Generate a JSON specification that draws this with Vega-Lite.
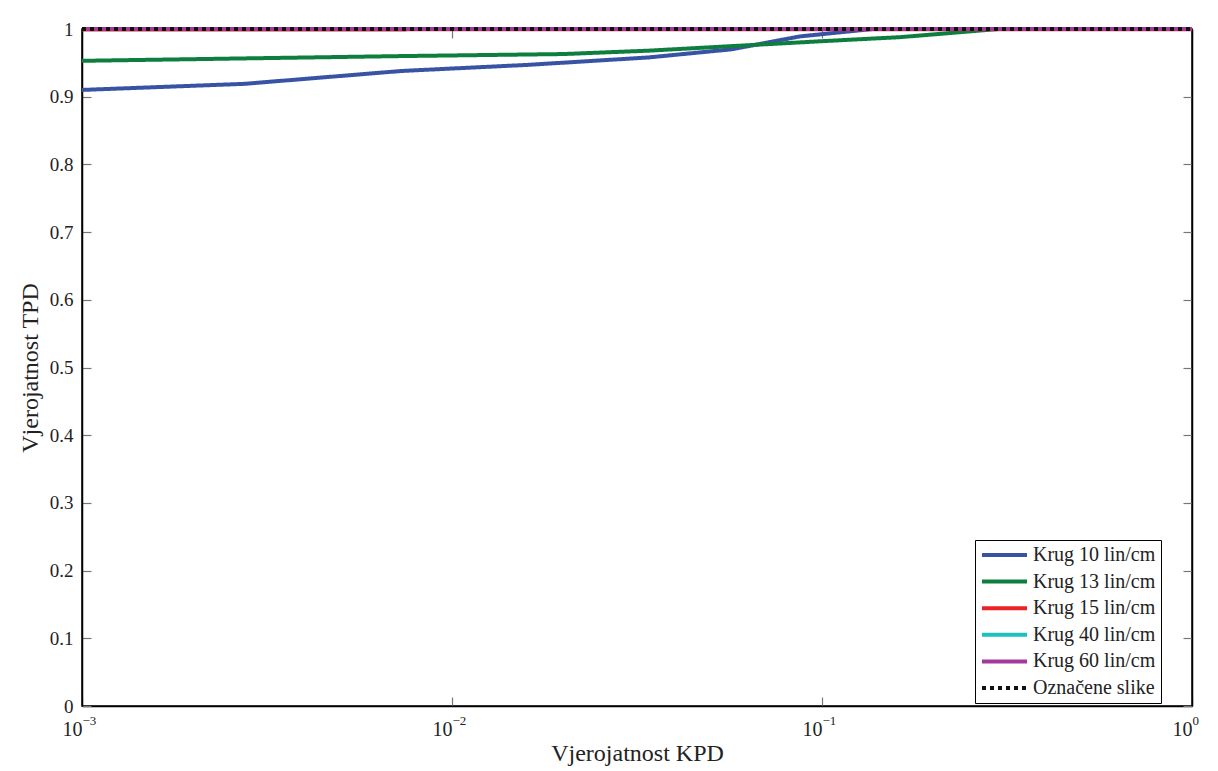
{
  "$schema": "https://vega.github.io/schema/vega-lite/v6.json",
  "autosize": "none",
  "width": 1110,
  "height": 677,
  "padding": {"left": 82, "top": 29, "right": 26, "bottom": 65},
  "background": "white",
  "config": {
    "font": "Liberation Serif",
    "view": {"stroke": "black", "strokeWidth": 1.5},
    "axis": {"grid": false, "domainColor": "black", "domainWidth": 1.5, "tickColor": "#777", "tickWidth": 1.2, "labelFont": "Liberation Serif", "titleFont": "Liberation Serif", "labelColor": "#222", "titleColor": "#222", "titleFontWeight": "normal"}
  },
  "data": {
    "values": [
      {"s": "Krug 10 lin/cm", "x": 0.001, "y": 0.910},
      {"s": "Krug 10 lin/cm", "x": 0.00275, "y": 0.919},
      {"s": "Krug 10 lin/cm", "x": 0.0073, "y": 0.938},
      {"s": "Krug 10 lin/cm", "x": 0.016, "y": 0.947},
      {"s": "Krug 10 lin/cm", "x": 0.034, "y": 0.958},
      {"s": "Krug 10 lin/cm", "x": 0.057, "y": 0.970},
      {"s": "Krug 10 lin/cm", "x": 0.087, "y": 0.989},
      {"s": "Krug 10 lin/cm", "x": 0.137, "y": 1.0},
      {"s": "Krug 10 lin/cm", "x": 1, "y": 1.0},
      {"s": "Krug 13 lin/cm", "x": 0.001, "y": 0.953},
      {"s": "Krug 13 lin/cm", "x": 0.0073, "y": 0.960},
      {"s": "Krug 13 lin/cm", "x": 0.02, "y": 0.963},
      {"s": "Krug 13 lin/cm", "x": 0.034, "y": 0.968},
      {"s": "Krug 13 lin/cm", "x": 0.1, "y": 0.982},
      {"s": "Krug 13 lin/cm", "x": 0.163, "y": 0.988},
      {"s": "Krug 13 lin/cm", "x": 0.3, "y": 1.0},
      {"s": "Krug 13 lin/cm", "x": 1, "y": 1.0},
      {"s": "Krug 15 lin/cm", "x": 0.001, "y": 0.9993},
      {"s": "Krug 15 lin/cm", "x": 1, "y": 0.9998},
      {"s": "Krug 40 lin/cm", "x": 0.001, "y": 1.0},
      {"s": "Krug 40 lin/cm", "x": 1, "y": 1.0},
      {"s": "Krug 60 lin/cm", "x": 0.001, "y": 1.0},
      {"s": "Krug 60 lin/cm", "x": 1, "y": 1.0},
      {"s": "Označene slike", "x": 0.001, "y": 1.0},
      {"s": "Označene slike", "x": 1, "y": 1.0}
    ]
  },
  "layer": [
    {
      "mark": {"type": "line", "strokeWidth": 4, "clip": false},
      "encoding": {
        "x": {"field": "x", "type": "quantitative", "scale": {"type": "log", "domain": [0.001, 1], "nice": false},
          "axis": {"orient": "bottom", "values": [0.001, 0.01, 0.1, 1], "tickSize": -9, "labelPadding": 22, "labelFontSize": 20, "labelBaseline": "top", "labelAlign": "right", "labelDx": -1, "labelFlush": false,
            "labelExpr": "'10'",
            "title": "Vjerojatnost KPD", "titleFontSize": 24, "titlePadding": 2}},
        "y": {"field": "y", "type": "quantitative", "scale": {"domain": [0, 1], "nice": false},
          "axis": {"orient": "left", "values": [0, 0.1, 0.2, 0.3, 0.4, 0.5, 0.6, 0.7, 0.8, 0.9, 1], "format": "~g", "tickSize": -9, "labelPadding": 18, "labelFontSize": 19,
            "title": "Vjerojatnost TPD", "titleFontSize": 24, "titlePadding": 7}},
        "color": {"field": "s", "type": "nominal",
          "scale": {"domain": ["Krug 10 lin/cm", "Krug 13 lin/cm", "Krug 15 lin/cm", "Krug 40 lin/cm", "Krug 60 lin/cm", "Označene slike"],
            "range": ["#3853A4", "#0E7E3E", "#EC2227", "#1DBFBF", "#A3399B", "#111111"]},
          "legend": {"title": null, "orient": "none", "legendX": 893, "legendY": 511, "fillColor": "white", "strokeColor": "black", "padding": 5,
            "symbolType": "stroke", "symbolStrokeWidth": 4, "symbolSize": 2025, "clipHeight": 20, "rowPadding": 6.6, "labelFontSize": 20, "labelColor": "#222", "labelOffset": 4}},
        "strokeDash": {"field": "s", "type": "nominal",
          "scale": {"domain": ["Krug 10 lin/cm", "Krug 13 lin/cm", "Krug 15 lin/cm", "Krug 40 lin/cm", "Krug 60 lin/cm", "Označene slike"],
            "range": [[1, 0], [1, 0], [1, 0], [1, 0], [1, 0], [4, 4]]},
          "legend": {"title": null, "orient": "none", "legendX": 893, "legendY": 511, "fillColor": "white", "strokeColor": "black", "padding": 5,
            "symbolType": "stroke", "symbolStrokeWidth": 4, "symbolSize": 2025, "clipHeight": 20, "rowPadding": 6.6, "labelFontSize": 20, "labelColor": "#222", "labelOffset": 4}}
      }
    },
    {
      "mark": {"type": "line", "opacity": 0},
      "encoding": {
        "x": {"field": "x", "type": "quantitative", "scale": {"type": "log", "domain": [0.001, 1], "nice": false},
          "axis": {"orient": "top", "values": [0.001, 0.01, 0.1, 1], "tickSize": -9, "labels": false, "title": null}},
        "y": {"field": "y", "type": "quantitative", "scale": {"domain": [0, 1], "nice": false},
          "axis": {"orient": "right", "values": [0, 0.1, 0.2, 0.3, 0.4, 0.5, 0.6, 0.7, 0.8, 0.9, 1], "tickSize": -9, "labels": false, "title": null}}
      }
    },
    {
      "mark": {"type": "line", "opacity": 0},
      "encoding": {
        "x": {"field": "x", "type": "quantitative", "scale": {"type": "log", "domain": [0.001, 1], "nice": false},
          "axis": {"orient": "bottom", "values": [0.001, 0.01, 0.1, 1], "domain": false, "ticks": false, "tickSize": 0, "labelPadding": 8, "labelFontSize": 13, "labelBaseline": "top", "labelAlign": "left", "labelDx": 4, "labelFlush": false,
            "labelExpr": "datum.value < 0.005 ? '−3' : datum.value < 0.05 ? '−2' : datum.value < 0.5 ? '−1' : '0'",
            "title": null}},
        "y": {"field": "y", "type": "quantitative", "scale": {"domain": [0, 1], "nice": false}, "axis": null}
      }
    }
  ],
  "resolve": {"axis": {"x": "independent", "y": "independent"}}
}
